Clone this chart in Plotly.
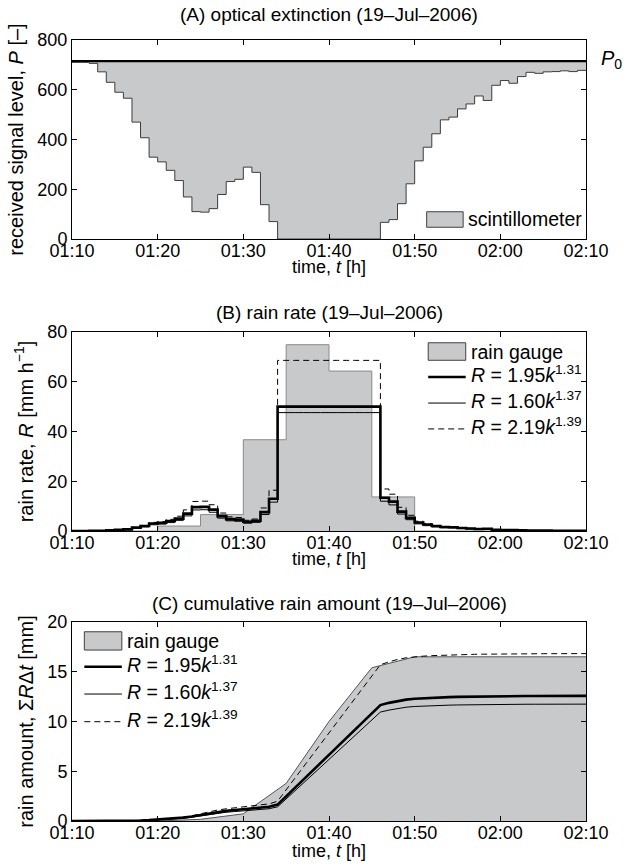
import pandas as pd
import plotly.graph_objects as go
from plotly.subplots import make_subplots

# ---------------- data ----------------
start = "2006-07-19 01:10"
P0 = 715
# received signal level, 1-minute values 01:10 ... 02:09
scint_P = [710, 710, 706, 672, 630, 590, 566, 470, 407, 329, 310, 276, 235, 169, 110, 108,
           122, 179, 231, 240, 289, 268, 138, 70, 0, 0, 0, 0, 0, 0, 0, 0, 0, 0, 0, 0,
           67, 78, 142, 222, 314, 369, 423, 479, 490, 523, 543, 575, 557, 618, 637, 626,
           653, 670, 666, 672, 673, 676, 673, 678]
# rain gauge, 5-minute rain rates 01:10 ... 02:05 [mm/h]
gauge_rate = [0, 0, 2.0, 6.6, 36.7, 74.9, 64.3, 13.7, 0, 0, 0, 0]
# rain gauge cumulative amount at 01:10, 01:15, ... 02:10 [mm]
gauge_cum = [0, 0, 0, 0.17, 0.72, 3.78, 10.0, 15.4, 16.5, 16.5, 16.5, 16.5, 16.5]
# scintillometer rain rates, 1-minute values [mm/h]
R_195 = [0, 0, 0.05, 0.12, 0.3, 0.5, 0.65, 1.35, 2.0, 3.0, 3.3, 4.0, 5.0, 7.0, 9.6, 9.7,
         8.6, 6.0, 4.8, 4.6, 3.7, 4.1, 7.6, 13.0, 50, 50, 50, 50, 50, 50, 50, 50, 50, 50, 50, 50,
         13.4, 11.8, 7.8, 5.3, 3.4, 2.6, 2.0, 1.6, 1.5, 1.2, 1.0, 0.8, 0.9, 0.45, 0.35, 0.4,
         0.25, 0.15, 0.17, 0.14, 0.13, 0.12, 0.13, 0.1]
R_160 = [0, 0, 0.035, 0.086, 0.23, 0.39, 0.51, 1.09, 1.64, 2.51, 2.77, 3.39, 4.28, 6.08, 8.47, 8.56,
         7.55, 5.18, 4.10, 3.92, 3.13, 3.48, 6.63, 11.6, 47.6, 47.6, 47.6, 47.6, 47.6, 47.6, 47.6,
         47.6, 47.6, 47.6, 47.6, 47.6,
         11.98, 10.5, 6.82, 4.55, 2.87, 2.16, 1.64, 1.30, 1.22, 0.97, 0.80, 0.63, 0.71, 0.34, 0.27,
         0.31, 0.19, 0.11, 0.13, 0.10, 0.094, 0.087, 0.094, 0.072]
R_219 = [0, 0, 0.045, 0.11, 0.30, 0.52, 0.68, 1.48, 2.25, 3.46, 3.83, 4.69, 5.95, 8.50, 11.88, 12.0,
         10.57, 7.22, 5.69, 5.44, 4.32, 4.82, 9.27, 16.4, 68.6, 68.6, 68.6, 68.6, 68.6, 68.6, 68.6,
         68.6, 68.6, 68.6, 68.6, 68.6,
         16.9, 14.8, 9.53, 6.32, 3.95, 2.97, 2.25, 1.78, 1.66, 1.32, 1.08, 0.85, 0.97, 0.47, 0.36,
         0.41, 0.25, 0.15, 0.17, 0.14, 0.13, 0.12, 0.13, 0.097]
# cumulative amounts at each minute 01:10 ... 02:10 [mm]
cum_195 = [0, 0, 0, 0.001, 0.003, 0.008, 0.016, 0.027, 0.050, 0.083, 0.133, 0.188, 0.255, 0.338,
           0.455, 0.615, 0.776, 0.920, 1.020, 1.100, 1.176, 1.238, 1.306, 1.433, 1.650, 2.483,
           3.316, 4.150, 4.983, 5.816, 6.650, 7.483, 8.316, 9.150, 9.983, 10.816, 11.650, 11.873,
           12.070, 12.200, 12.288, 12.345, 12.388, 12.421, 12.448, 12.473, 12.493, 12.510, 12.523,
           12.538, 12.545, 12.551, 12.558, 12.562, 12.564, 12.567, 12.569, 12.572, 12.574, 12.576,
           12.577]
cum_160 = [0, 0, 0, 0.001, 0.002, 0.006, 0.012, 0.021, 0.039, 0.066, 0.108, 0.154, 0.211, 0.282,
           0.384, 0.525, 0.667, 0.793, 0.880, 0.948, 1.013, 1.065, 1.123, 1.234, 1.427, 2.221,
           3.014, 3.807, 4.601, 5.394, 6.187, 6.981, 7.774, 8.567, 9.361, 10.154, 10.947, 11.147,
           11.322, 11.435, 11.511, 11.559, 11.595, 11.622, 11.644, 11.664, 11.681, 11.694, 11.704,
           11.716, 11.722, 11.726, 11.731, 11.735, 11.736, 11.739, 11.740, 11.742, 11.743, 11.745,
           11.746]
cum_219 = [0, 0, 0, 0.001, 0.003, 0.008, 0.016, 0.028, 0.052, 0.090, 0.147, 0.211, 0.289, 0.389,
           0.530, 0.728, 0.928, 1.104, 1.225, 1.320, 1.410, 1.482, 1.563, 1.717, 1.990, 3.134,
           4.277, 5.420, 6.564, 7.707, 8.850, 9.994, 11.137, 12.280, 13.424, 14.567, 15.710, 15.992,
           16.239, 16.398, 16.503, 16.569, 16.618, 16.656, 16.685, 16.713, 16.735, 16.753, 16.767,
           16.783, 16.791, 16.797, 16.804, 16.808, 16.811, 16.813, 16.816, 16.818, 16.820, 16.822,
           16.824]

titles = ["(A) optical extinction (19\u2013Jul\u20132006)",
          "(B) rain rate (19\u2013Jul\u20132006)",
          "(C) cumulative rain amount (19\u2013Jul\u20132006)"]
ytitles = ["received signal level, <i>P</i> [\u2013]",
           "rain rate, <i>R</i> [mm h<sup>\u22121</sup>]",
           "rain amount, \u03a3<i>R</i>\u0394<i>t</i> [mm]"]
xtitle = "time, <i>t</i> [h]"
leg_labels = ["<i>R</i> = 1.95<i>k</i><sup>1.31</sup>",
              "<i>R</i> = 1.60<i>k</i><sup>1.37</sup>",
              "<i>R</i> = 2.19<i>k</i><sup>1.39</sup>"]

# ---------------- styles ----------------
GREY = "#c8c9cb"
FONT = "Liberation Sans, Arial, sans-serif"
t1 = pd.date_range(start, periods=61, freq="min")
t5 = pd.date_range(start, periods=13, freq="5min")
step = lambda v: list(v) + [v[-1]]

fig = make_subplots(rows=3, cols=1)

# (A)
fig.add_trace(go.Scatter(x=[t1[0], t1[-1]], y=[P0, P0], mode="lines",
                         line=dict(color="black", width=2.4)), row=1, col=1)
fig.add_trace(go.Scatter(x=t1, y=step(scint_P), mode="lines", line_shape="hv",
                         line=dict(color="#3c3c3c", width=1), fill="tonexty",
                         fillcolor=GREY), row=1, col=1)

# (B)
fig.add_trace(go.Scatter(x=t5, y=step(gauge_rate), mode="lines", line_shape="hv",
                         line=dict(color="#8a8a8a", width=1), fill="tozeroy",
                         fillcolor=GREY), row=2, col=1)
model_styles = [dict(color="black", width=2.6), dict(color="black", width=1),
                dict(color="black", width=1, dash="6px,4px")]
for R, st in zip([R_160, R_219, R_195], [model_styles[1], model_styles[2], model_styles[0]]):
    fig.add_trace(go.Scatter(x=t1, y=step(R), mode="lines", line_shape="hv", line=st),
                  row=2, col=1)

# (C)
fig.add_trace(go.Scatter(x=t5, y=gauge_cum, mode="lines", line=dict(color="#555555", width=1),
                         fill="tozeroy", fillcolor=GREY), row=3, col=1)
for c, st in zip([cum_160, cum_219, cum_195], [model_styles[1], model_styles[2], model_styles[0]]):
    fig.add_trace(go.Scatter(x=t1, y=c, mode="lines", line=st), row=3, col=1)

# ---------------- axes ----------------
doms = [[0.7452, 1.0], [0.3713, 0.6261], [0.0, 0.2548]]
yr = [[0, 800], [0, 80], [0, 20]]
yd = [200, 20, 5]
for i in range(3):
    fig.update_xaxes(row=i + 1, col=1, type="date", range=[t1[0], t1[-1]],
                     tickformat="%H:%M", dtick=600000, tick0=t1[0],
                     ticks="inside", ticklen=5, tickcolor="black", showline=True,
                     linecolor="black", linewidth=1, mirror="ticks", showgrid=False,
                     zeroline=False, tickfont=dict(size=18), ticklabelstandoff=-5)
    fig.update_yaxes(row=i + 1, col=1, domain=doms[i], range=yr[i], dtick=yd[i],
                     ticks="inside", ticklen=5, tickcolor="black", showline=True,
                     linecolor="black", linewidth=1, mirror="ticks", showgrid=False,
                     zeroline=False, tickfont=dict(size=18),
                     title=dict(text=ytitles[i], standoff=8, font=dict(size=20)))

# ---------------- titles & annotations ----------------
axn = [("x", "y"), ("x2", "y2"), ("x3", "y3")]
title_y = [1.033, 0.6517, 0.279]
xt_shift = [-28, -28, -30]
for i in range(3):
    fig.add_annotation(text=titles[i], xref="paper", yref="paper", x=0.5, y=title_y[i],
                       showarrow=False, xanchor="center", yanchor="middle",
                       font=dict(size=19))
    fig.add_annotation(text=xtitle, xref=f"{axn[i][0]} domain", yref=f"{axn[i][1]} domain",
                       x=0.5, y=0, yshift=xt_shift[i], xanchor="center", yanchor="middle",
                       showarrow=False, font=dict(size=18))
fig.add_annotation(text="<i>P</i><sub>0</sub>", xref="x domain", yref="y", x=1.025, y=P0,
                   xanchor="left", yanchor="middle", showarrow=False, yshift=2,
                   font=dict(size=20))

LEGFONT = dict(size=19.5)

def legend_box(ax, x0, x1, y0, y1, tx, label):
    fig.add_shape(type="rect", xref=f"{ax[0]} domain", yref=f"{ax[1]} domain",
                  x0=x0, x1=x1, y0=y0, y1=y1, fillcolor=GREY,
                  line=dict(color="#404040", width=1))
    fig.add_annotation(text=label, xref=f"{ax[0]} domain", yref=f"{ax[1]} domain",
                       x=tx, y=(y0 + y1) / 2, xanchor="left", yanchor="middle",
                       showarrow=False, font=LEGFONT)

def legend_line(ax, x0, x1, y, tx, st, label):
    fig.add_shape(type="line", xref=f"{ax[0]} domain", yref=f"{ax[1]} domain",
                  x0=x0, x1=x1, y0=y, y1=y, line=st)
    fig.add_annotation(text=label, xref=f"{ax[0]} domain", yref=f"{ax[1]} domain",
                       x=tx, y=y, xanchor="left", yanchor="middle", showarrow=False,
                       yshift=3, font=LEGFONT)

legend_box(("x", "y"), 0.690, 0.761, 0.059, 0.137, 0.767, "scintillometer")

legend_box(("x2", "y2"), 0.693, 0.766, 0.858, 0.946, 0.772, "rain gauge")
for yy, st, lab in zip([0.774, 0.643, 0.513], model_styles, leg_labels):
    legend_line(("x2", "y2"), 0.693, 0.766, yy, 0.772, st, lab)

legend_box(("x3", "y3"), 0.024, 0.097, 0.859, 0.951, 0.103, "rain gauge")
for yy, st, lab in zip([0.775, 0.638, 0.499], model_styles, leg_labels):
    legend_line(("x3", "y3"), 0.024, 0.097, yy, 0.103, st, lab)

fig.update_layout(width=624, height=865, margin=dict(l=72, r=38, t=40, b=44),
                  plot_bgcolor="white", paper_bgcolor="white", showlegend=False,
                  font=dict(family=FONT, size=18, color="black"), hovermode=False)

fig.write_html("out.html")
